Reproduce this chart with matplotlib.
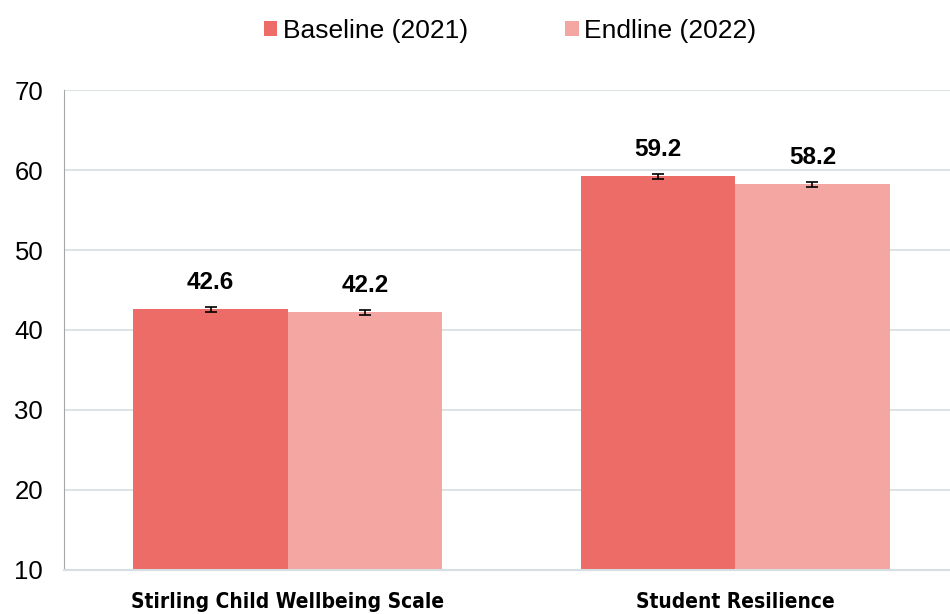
import numpy as np
import matplotlib.pyplot as plt

# 데이터
categories = ["Stirling Child Wellbeing Scale", "Student Resilience"]
baseline = [42.6, 59.2]
endline = [42.2, 58.2]
baseline_err = [0.3, 0.3]
endline_err = [0.3, 0.3]
series_names = ["Baseline (2021)", "Endline (2022)"]
yticks = [10, 20, 30, 40, 50, 60, 70]

c_base = "#ED6C67"
c_end = "#F4A6A2"

fig = plt.figure(figsize=(9.5, 6.14), dpi=100)
ax = fig.add_axes([0.0674, 0.0717, 0.9326, 0.7817])

x = np.arange(len(categories))
w = 0.345

ax.bar(x - w / 2, baseline, w, bottom=0, color=c_base, label=series_names[0], zorder=2)
ax.bar(x + w / 2, endline, w, bottom=0, color=c_end, label=series_names[1], zorder=2)
ax.errorbar(x - w / 2, baseline, yerr=baseline_err, fmt="none", ecolor="black",
            elinewidth=1.2, capsize=4, capthick=1.2, zorder=3)
ax.errorbar(x + w / 2, endline, yerr=endline_err, fmt="none", ecolor="black",
            elinewidth=1.2, capsize=4, capthick=1.2, zorder=3)

# 값 라벨
for xs, vals in [(x - w / 2, baseline), (x + w / 2, endline)]:
    for xi, v in zip(xs, vals):
        ax.text(xi, v + 1.9, f"{v:.1f}", ha="center", va="bottom",
                fontsize=17.5, fontweight="bold", family="Liberation Sans")

ax.set_ylim(10, 70)
ax.set_xlim(-0.5, 1.48)
ax.set_yticks(yticks)
ax.set_yticklabels([str(t) for t in yticks], fontsize=18.5, family="Liberation Sans")
ax.set_xticks(x)
ax.set_xticklabels(categories, fontsize=15, fontweight="bold",
                   family="DejaVu Sans", fontstretch="condensed")
ax.tick_params(axis="x", length=0, pad=16)
ax.tick_params(axis="y", length=0, pad=15)

ax.grid(axis="y", color="#D5DEE0", linewidth=1.2, zorder=0)
ax.set_axisbelow(True)
for s in ["top", "right"]:
    ax.spines[s].set_visible(False)
ax.spines["left"].set_color("#A6A6A6")
ax.spines["bottom"].set_color("#D5DEE0")
ax.spines["bottom"].set_linewidth(1.5)

fig.legend(loc="center", bbox_to_anchor=(0.537, 0.95), ncol=2, frameon=False,
           prop={"family": "Liberation Sans", "size": 19},
           handlelength=0.5, handleheight=0.5, handletextpad=0.2, columnspacing=3.7)

plt.savefig("out.png", dpi=100)
